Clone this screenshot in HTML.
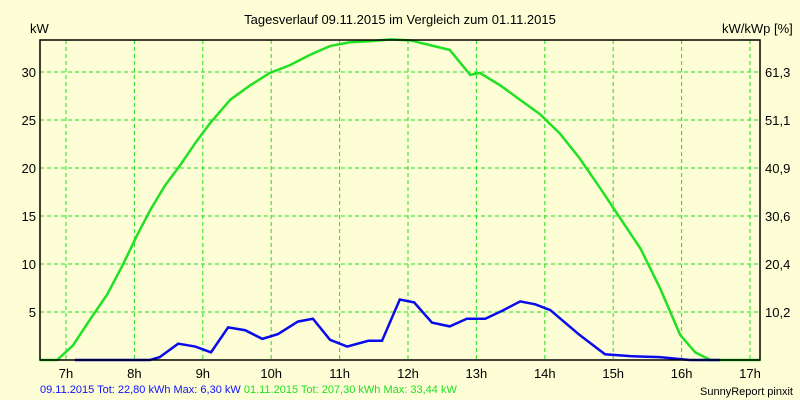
<!DOCTYPE html>
<html><head><meta charset="utf-8"><style>
body{margin:0;background:#fdfdd6;}
svg{display:block;font-family:"Liberation Sans",sans-serif;}
</style></head><body>
<svg id="chart" width="800" height="400">
<rect width="800" height="400" fill="#fdfdd6"/>
<text x="400" y="24" font-size="13" text-anchor="middle">Tagesverlauf 09.11.2015 im Vergleich zum 01.11.2015</text>
<text x="30" y="33" font-size="13">kW</text>
<text x="722" y="33" font-size="13">kW/kWp [%]</text>
<g id="grid"></g><g id="series"></g>
<rect x="40" y="40" width="720" height="320" fill="none" stroke="#000" stroke-width="1.5"/>
<g id="labels"></g>
<text x="40" y="393" font-size="11" fill="#1010ff">09.11.2015 Tot: 22,80 kWh Max: 6,30 kW <tspan fill="#22e022">01.11.2015 Tot: 207,30 kWh Max: 33,44 kW</tspan></text>
<text x="793" y="395" font-size="11" text-anchor="end">SunnyReport pinxit</text>
</svg>
<script>
const hourTicks=[7,8,9,10,11,12,13,14,15,16,17];
const kwTicks=[5,10,15,20,25,30];
const pctTicks=["10,2","20,4","30,6","40,9","51,1","61,3"];
const greenH=[6.62,6.87,7.10,7.35,7.60,7.83,8.04,8.23,8.45,8.67,8.89,9.11,9.40,9.69,9.98,10.27,10.57,10.86,11.15,11.44,11.74,12.03,12.32,12.61,12.91,13.05,13.35,13.64,13.93,14.22,14.51,14.81,15.10,15.40,15.69,15.98,16.20,16.42,17.15];
const greenKW=[0,0,1.5,4.2,6.8,9.9,13.0,15.6,18.2,20.3,22.6,24.7,27.1,28.6,29.9,30.7,31.8,32.7,33.1,33.2,33.4,33.3,32.8,32.3,29.7,29.9,28.6,27.1,25.6,23.6,21.0,17.9,14.8,11.6,7.4,2.6,0.8,0,0];
const blueH=[7.13,8.23,8.37,8.64,8.89,9.12,9.37,9.62,9.87,10.10,10.39,10.61,10.86,11.11,11.42,11.62,11.88,12.09,12.35,12.61,12.86,13.13,13.37,13.64,13.86,14.08,14.51,14.88,15.25,15.68,16.12,16.56];
const blueKW=[0,0,0.3,1.7,1.4,0.8,3.4,3.1,2.2,2.7,4.0,4.3,2.1,1.4,2.0,2.0,6.3,6.0,3.9,3.5,4.3,4.3,5.1,6.1,5.8,5.2,2.6,0.6,0.4,0.3,0,0];
const X=h=>66+(h-7)*68.4, Y=k=>360-k*9.6;
const NS="http://www.w3.org/2000/svg";
const mk=(t,a,p)=>{const e=document.createElementNS(NS,t);for(const k in a)e.setAttribute(k,a[k]);p.appendChild(e);return e;};
const grid=document.getElementById('grid'),labels=document.getElementById('labels'),series=document.getElementById('series');
hourTicks.forEach(h=>{
 const l=mk('line',{x1:X(h),x2:X(h),y1:40,y2:360,stroke:'#22e022','stroke-dasharray':'4,3'},grid);
 
 
 const t=mk('text',{x:X(h),y:378,'font-size':13,'text-anchor':'middle'},labels);t.textContent=h+'h';
 
 
});
kwTicks.forEach((k,i)=>{
 const l=mk('line',{x1:40,x2:760,y1:Y(k),y2:Y(k),stroke:'#22e022','stroke-dasharray':'4,3'},grid);
 
 
 const t=mk('text',{x:36,y:Y(k)+5,'font-size':13,'text-anchor':'end'},labels);t.textContent=k;
 
 
 const r=mk('text',{x:765,y:Y(k)+5,'font-size':13},labels);r.textContent=pctTicks[i];
 
 
});
const g=mk('polyline',{points:greenH.map((h,i)=>X(h)+','+Y(greenKW[i])).join(' '),fill:'none',stroke:'#22e022','stroke-width':2.5},series);


const b=mk('polyline',{points:blueH.map((h,i)=>X(h)+','+Y(blueKW[i])).join(' '),fill:'none',stroke:'#0a0aee','stroke-width':2.5},series);


</script>
</body></html>
